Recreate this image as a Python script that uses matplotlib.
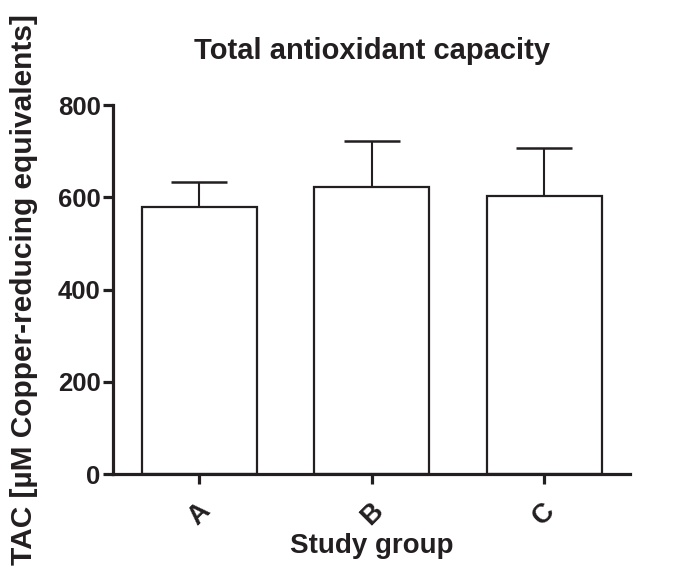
import numpy as np
import matplotlib
matplotlib.use("Agg")
import matplotlib.pyplot as plt

plt.rcParams["font.family"] = ["Liberation Sans", "DejaVu Sans"]
plt.rcParams["font.weight"] = "bold"

groups = ["A", "B", "C"]
tac_mean = [578, 622, 602]
tac_err = [55, 100, 104]
yticks = [0, 200, 400, 600, 800]

ink = "#231f20"

fig = plt.figure(figsize=(6.77, 5.74), dpi=100)
ax = fig.add_axes([0.167, 0.174, 0.764, 0.643])

x = np.arange(len(groups))
ax.bar(x, tac_mean, width=0.667, color="white", edgecolor=ink, linewidth=1.6, zorder=2)
ax.errorbar(x, tac_mean, yerr=[np.zeros(len(groups)), tac_err], fmt="none",
            ecolor=ink, elinewidth=1.5, capsize=20.5, capthick=1.8, zorder=1)

ax.set_xlim(-0.5, 2.5)
ax.set_ylim(0, 800)
ax.set_yticks(yticks)
ax.set_xticks(x)
ax.set_xticklabels(groups, rotation=45, ha="center", va="top", fontsize=19.5)

for s in ["top", "right"]:
    ax.spines[s].set_visible(False)
for s in ["left", "bottom"]:
    ax.spines[s].set_linewidth(2.3)
    ax.spines[s].set_color(ink)

ax.tick_params(axis="both", length=7, width=2.3, color=ink, labelcolor=ink)
ax.tick_params(axis="y", pad=2, labelsize=18.5)
ax.tick_params(axis="x", pad=10)

ax.set_title("Total antioxidant capacity", fontsize=21, fontweight="bold", color=ink, pad=33)
ax.set_xlabel("Study group", fontsize=20, fontweight="bold", color=ink, labelpad=2)
ax.set_ylabel("TAC [µM Copper-reducing equivalents]", fontsize=21.5, fontweight="bold",
              color=ink, labelpad=14)

fig.savefig("out.png", dpi=100)
